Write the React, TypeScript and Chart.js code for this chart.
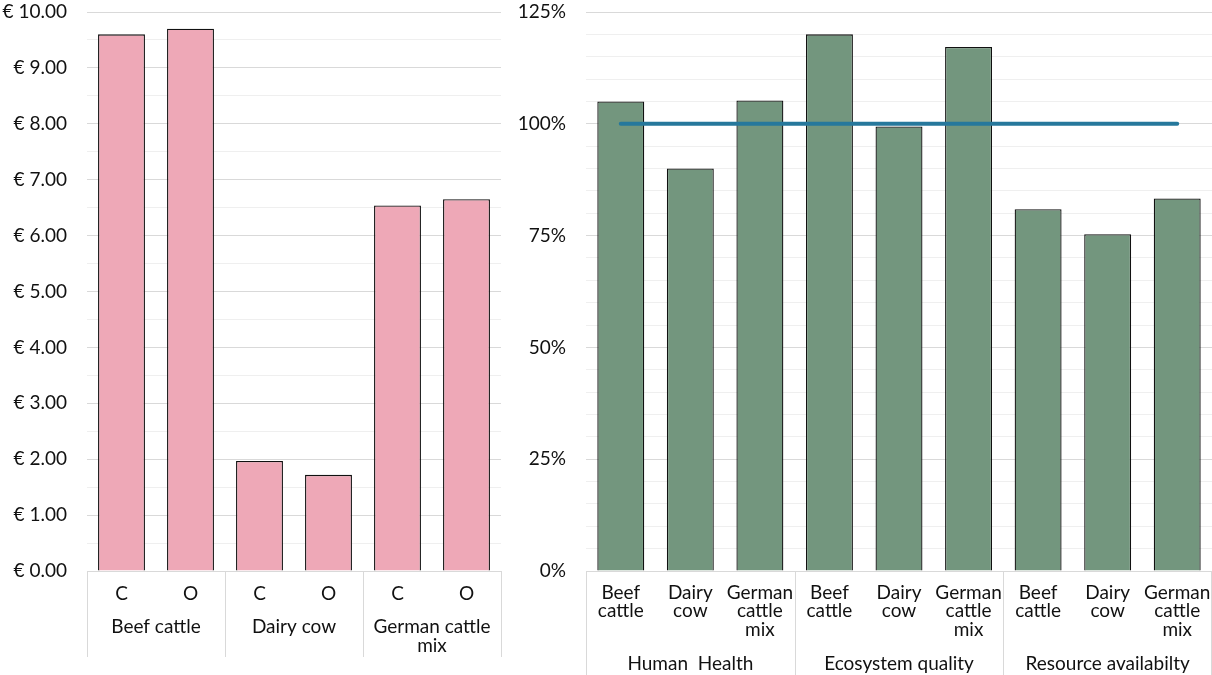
import React, { useEffect, useRef } from "react";
import { Chart, registerables } from "chart.js";

Chart.register(...registerables);

// ---------- Data ----------
const costCategories = ["C", "O", "C", "O", "C", "O"];
const costGroups = [["Beef cattle"], ["Dairy cow"], ["German cattle", "mix"]];
const costGroupSizes = [2, 2, 2];
const costValues = [9.6, 9.7, 1.97, 1.72, 6.54, 6.65];
const costTicks = [0, 1, 2, 3, 4, 5, 6, 7, 8, 9, 10];

const impactCategories = [
  ["Beef", "cattle"], ["Dairy", "cow"], ["German", "cattle", "mix"],
  ["Beef", "cattle"], ["Dairy", "cow"], ["German", "cattle", "mix"],
  ["Beef", "cattle"], ["Dairy", "cow"], ["German", "cattle", "mix"],
];
const impactGroups = [["Human  Health"], ["Ecosystem quality"], ["Resource availabilty"]];
const impactGroupSizes = [3, 3, 3];
const impactValues = [105, 90, 105.2, 120, 99.4, 117.2, 80.9, 75.3, 83.3];
const referenceValues = [100, 100, 100, 100, 100, 100, 100, 100, 100];
const impactTicks = [0, 25, 50, 75, 100, 125];

// ---------- Styles ----------
const FONT = "Lato, 'Open Sans', sans-serif";
const FONT_SIZE = 19;
const TEXT = "#111";
const GRID_MAJOR = "#d9d9d9";
const GRID_MINOR = "#efefef";

function groupPlugin(groups: string[][], sizes: number[], labelY: number, lineBottom: number) {
  return {
    id: "groupLabels",
    afterDraw(chart: any) {
      const { ctx, chartArea } = chart;
      const xs = chart.scales.x;
      const n = xs.getLabels().length;
      const edge = (i: number) => {
        if (i <= 0) return chartArea.left;
        if (i >= n) return chartArea.right;
        return (xs.getPixelForValue(i - 1) + xs.getPixelForValue(i)) / 2;
      };
      ctx.save();
      ctx.strokeStyle = GRID_MAJOR;
      ctx.lineWidth = 1;
      let start = 0;
      const bounds: number[] = [0];
      sizes.forEach((s) => { start += s; bounds.push(start); });
      bounds.forEach((b) => {
        let x = Math.round(edge(b)) + 0.5;
        if (x > chart.width) x = chart.width - 0.5;
        ctx.beginPath();
        ctx.moveTo(x, chartArea.bottom);
        ctx.lineTo(x, lineBottom);
        ctx.stroke();
      });
      ctx.fillStyle = TEXT;
      ctx.font = `${FONT_SIZE}px ${FONT}`;
      ctx.textAlign = "center";
      ctx.textBaseline = "middle";
      groups.forEach((lines, gi) => {
        const cx = (edge(bounds[gi]) + edge(bounds[gi + 1])) / 2;
        lines.forEach((line, li) => {
          ctx.fillText(line, cx, labelY + li * 19);
        });
      });
      ctx.restore();
    },
  };
}

const fitX = (s: any) => {
  s.height = 104;
  s.paddingLeft = 0;
  s.paddingRight = 0;
};

export default function App() {
  const leftRef = useRef<HTMLCanvasElement>(null);
  const rightRef = useRef<HTMLCanvasElement>(null);

  useEffect(() => {
    const left = new Chart(leftRef.current!, {
      type: "bar",
      data: {
        labels: costCategories,
        datasets: [
          {
            data: costValues,
            backgroundColor: "#eea8b7",
            borderColor: "#111",
            borderWidth: 1.3,
            barPercentage: 0.68,
            categoryPercentage: 1,
          },
        ],
      },
      options: {
        animation: false,
        responsive: false,
        layout: { padding: { top: 12, right: 9, left: 0, bottom: 0 } },
        plugins: { legend: { display: false }, tooltip: { enabled: false } },
        scales: {
          x: {
            grid: { display: false, drawTicks: false },
            border: { display: true, color: GRID_MAJOR },
            ticks: { color: TEXT, font: { family: FONT, size: FONT_SIZE, lineHeight: 1.0 }, padding: 13, maxRotation: 0, autoSkip: false },
            afterFit: fitX,
          },
          y: {
            min: 0,
            max: 10,
            afterBuildTicks: (s: any) => {
              const t: any[] = [];
              for (let i = 0; i < costTicks.length; i++) {
                t.push({ value: costTicks[i] });
                if (i < costTicks.length - 1) t.push({ value: (costTicks[i] + costTicks[i + 1]) / 2 });
              }
              s.ticks = t;
            },
            grid: {
              drawTicks: false,
              color: (c: any) => (c.tick && costTicks.includes(c.tick.value) ? GRID_MAJOR : GRID_MINOR),
            },
            border: { display: false },
            ticks: {
              color: TEXT,
              font: { family: FONT, size: FONT_SIZE },
              padding: 20,
              autoSkip: false,
              callback: (v: any) => (costTicks.includes(Number(v)) ? "€ " + Number(v).toFixed(2) : ""),
            },
            afterFit: (s: any) => { s.width = 87; s.paddingTop = 0; s.paddingBottom = 0; },
          },
        },
      },
      plugins: [groupPlugin(costGroups, costGroupSizes, 627, 657)],
    });

    const right = new Chart(rightRef.current!, {
      type: "bar",
      data: {
        labels: impactCategories as any,
        datasets: [
          {
            type: "line",
            data: referenceValues,
            borderColor: "#26789c",
            borderWidth: 4,
            borderCapStyle: "round",
            pointRadius: 0,
            fill: false,
            order: 0,
          } as any,
          {
            type: "bar",
            data: impactValues,
            backgroundColor: "#73967e",
            borderColor: "#111",
            borderWidth: 1.3,
            barPercentage: 0.675,
            categoryPercentage: 1,
            order: 1,
          },
        ],
      },
      options: {
        animation: false,
        responsive: false,
        layout: { padding: { top: 12, right: 0, left: 0, bottom: 0 } },
        plugins: { legend: { display: false }, tooltip: { enabled: false } },
        scales: {
          x: {
            offset: true,
            grid: { display: false, drawTicks: false },
            border: { display: true, color: GRID_MAJOR },
            ticks: { color: TEXT, font: { family: FONT, size: FONT_SIZE, lineHeight: 0.96 }, padding: 13, maxRotation: 0, autoSkip: false },
            afterFit: fitX,
          },
          y: {
            min: 0,
            max: 125,
            afterBuildTicks: (s: any) => {
              const t: any[] = [];
              for (let v = 0; v <= 125; v += 5) t.push({ value: v });
              s.ticks = t;
            },
            grid: {
              drawTicks: false,
              color: (c: any) => (c.tick && impactTicks.includes(c.tick.value) ? GRID_MAJOR : GRID_MINOR),
            },
            border: { display: false },
            ticks: {
              color: TEXT,
              font: { family: FONT, size: FONT_SIZE },
              padding: 20,
              autoSkip: false,
              callback: (v: any) => (impactTicks.includes(Number(v)) ? Number(v) + "%" : ""),
            },
            afterFit: (s: any) => { s.width = 76; s.paddingTop = 0; s.paddingBottom = 0; },
          },
        },
      },
      plugins: [groupPlugin(impactGroups, impactGroupSizes, 664, 675)],
    });

    return () => {
      left.destroy();
      right.destroy();
    };
  }, []);

  return (
    <div style={{ position: "absolute", left: 0, top: 0, width: 1212, height: 675, background: "#fff" }}>
      <canvas ref={leftRef} width={510} height={675} style={{ position: "absolute", left: 0, top: 0, width: 510, height: 675 }} />
      <canvas ref={rightRef} width={702} height={675} style={{ position: "absolute", left: 510, top: 0, width: 702, height: 675 }} />
    </div>
  );
}
